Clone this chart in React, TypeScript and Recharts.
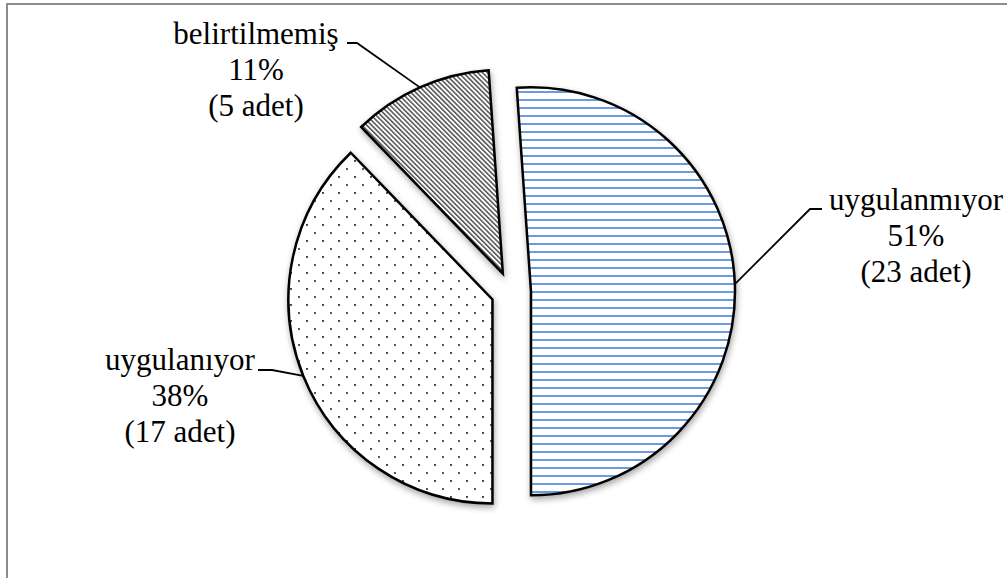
import { PieChart, Pie, Cell } from 'recharts';

const categories = ['uygulanmıyor', 'uygulanıyor', 'belirtilmemiş'];
const counts = [23, 17, 5];

const WIDTH = 1007;
const HEIGHT = 578;
const CX = 511;
const CY = 292;
const RADIUS = 204;
const EXPLODE = 20;
const START_ANGLE = 94;
const RAD = Math.PI / 180;

const FILLS = ['url(#hLines)', 'url(#dots)', 'url(#hatch)'];
const FONT = "'Liberation Serif', 'Times New Roman', Tinos, 'DejaVu Serif', serif";
const FONT_SIZE = 31;
const LINE_GAP = 36;

// leader elbow + end point, text centre and baseline of the first line
const LABEL_LAYOUT = [
  { elbow: [810, 209], end: [822, 209], tx: 916, ty: 210 },
  { elbow: [272, 370], end: [258, 370], tx: 180, ty: 370 },
  { elbow: [357, 43], end: [347, 43], tx: 256, ty: 44 },
];

const data = categories.map((name, i) => ({ name, value: counts[i] }));
const total = counts.reduce((a, b) => a + b, 0);

// bisector of each slice, in recharts degrees (clockwise from START_ANGLE)
const midAngles = counts.map((v, i) => {
  const before = counts.slice(0, i).reduce((a, b) => a + b, 0);
  return START_ANGLE - ((before + v / 2) / total) * 360;
});

const renderLabel = (p: any) => {
  const i = p.index;
  const sx = p.cx + p.outerRadius * Math.cos(-p.midAngle * RAD);
  const sy = p.cy + p.outerRadius * Math.sin(-p.midAngle * RAD);
  const L = LABEL_LAYOUT[i];
  const pct = Math.round((counts[i] / total) * 100);
  const lines = [categories[i], `${pct}%`, `(${counts[i]} adet)`];
  return (
    <g>
      <polyline
        points={`${sx},${sy} ${L.elbow[0]},${L.elbow[1]} ${L.end[0]},${L.end[1]}`}
        fill="none"
        stroke="#000"
        strokeWidth={1.8}
      />
      {lines.map((t, j) => (
        <text
          key={j}
          x={L.tx}
          y={L.ty + j * LINE_GAP}
          textAnchor="middle"
          fill="#000"
          style={{ fontFamily: FONT, fontSize: FONT_SIZE }}
        >
          {t}
        </text>
      ))}
    </g>
  );
};

export default function App() {
  return (
    <div
      style={{
        position: 'absolute',
        left: 0,
        top: 0,
        width: WIDTH,
        height: HEIGHT,
        overflow: 'hidden',
        background: '#fff',
        fontFamily: FONT,
      }}
    >
      <div
        style={{
          position: 'absolute',
          left: 6,
          top: 3,
          width: WIDTH + 50,
          height: HEIGHT + 50,
          border: '2px solid #8c8c8c',
        }}
      />
      <PieChart
        width={WIDTH}
        height={HEIGHT}
        margin={{ top: 0, right: 0, bottom: 0, left: 0 }}
        style={{ position: 'absolute', left: 0, top: 0 }}
      >
        <defs>
          <pattern id="hLines" width="8" height="8" patternUnits="userSpaceOnUse">
            <rect width="8" height="8" fill="#fff" />
            <line x1="0" y1="4" x2="8" y2="4" stroke="#5b8fdc" strokeWidth="1.8" />
          </pattern>
          <pattern id="dots" width="16" height="16" patternUnits="userSpaceOnUse">
            <rect width="16" height="16" fill="#fff" />
            <circle cx="3" cy="1" r="1.1" fill="#333" />
            <circle cx="11" cy="9" r="1.1" fill="#333" />
          </pattern>
          <pattern
            id="hatch"
            width="3.4"
            height="3.4"
            patternUnits="userSpaceOnUse"
            patternTransform="rotate(-45)"
          >
            <rect width="3.4" height="3.4" fill="#fff" />
            <line x1="0.8" y1="0" x2="0.8" y2="3.4" stroke="#333" strokeWidth="1.3" />
          </pattern>
          <filter id="sliceShadow" x="-15%" y="-15%" width="130%" height="130%">
            <feDropShadow dx="1" dy="3" stdDeviation="3" floodColor="#000" floodOpacity="0.35" />
          </filter>
        </defs>
        {data.map((_, k) => {
          const ox = CX + EXPLODE * Math.cos(midAngles[k] * RAD);
          const oy = CY - EXPLODE * Math.sin(midAngles[k] * RAD);
          return (
            <Pie
              key={categories[k]}
              data={data}
              dataKey="value"
              nameKey="name"
              cx={ox}
              cy={oy}
              outerRadius={RADIUS}
              startAngle={START_ANGLE}
              endAngle={START_ANGLE - 360}
              isAnimationActive={false}
              labelLine={false}
              label={(p: any) => (p.index === k ? renderLabel(p) : null)}
            >
              {data.map((d, i) => (
                <Cell
                  key={d.name}
                  fill={i === k ? FILLS[i] : 'none'}
                  stroke={i === k ? '#000' : 'none'}
                  strokeWidth={2.5}
                  filter={i === k ? 'url(#sliceShadow)' : undefined}
                />
              ))}
            </Pie>
          );
        })}
      </PieChart>
    </div>
  );
}
